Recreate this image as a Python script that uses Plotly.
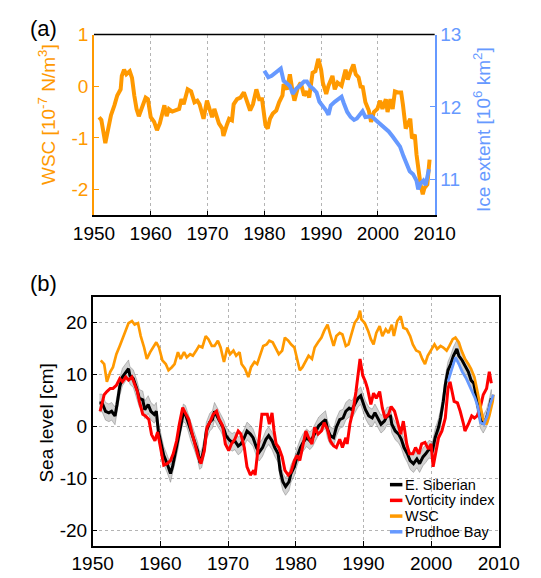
import plotly.graph_objects as go

# ---------------- Panel (a) ----------------
wsc_a_year = [1950.9, 1951.3, 1952.0, 1952.5, 1953.0, 1953.6, 1954.1, 1954.7, 1954.9, 1955.3, 1955.7, 1956.3,
              1956.7, 1957.1, 1957.5, 1957.9, 1958.5, 1959.1, 1959.5, 1960.0, 1960.6, 1961.1, 1961.6, 1962.0,
              1962.4, 1962.8, 1963.2, 1963.8, 1964.4, 1965.0, 1965.4, 1965.8, 1966.5, 1967.1, 1967.7, 1968.2,
              1968.6, 1969.3, 1969.9, 1970.4, 1970.8, 1971.2, 1971.6, 1972.0, 1972.6, 1972.8, 1973.4, 1973.8,
              1974.3, 1974.6, 1975.2, 1975.8, 1976.4, 1976.9, 1977.5, 1978.0, 1978.6, 1979.1, 1979.6, 1980.2,
              1980.6, 1981.0, 1981.5, 1982.1, 1982.6, 1983.2, 1983.4, 1984.0, 1984.5, 1985.0, 1985.3, 1985.9,
              1986.4, 1987.0, 1987.5, 1987.9, 1988.5, 1989.0, 1989.5, 1990.0, 1990.3, 1990.9, 1991.3, 1992.0,
              1992.4, 1992.9, 1993.6, 1994.3, 1994.7, 1995.1, 1995.7, 1996.1, 1996.6, 1997.0, 1997.3, 1997.8,
              1998.4, 1998.8, 1999.3, 1999.9, 2000.4, 2000.8, 2001.4, 2001.7, 2002.2, 2002.6, 2003.0, 2003.5,
              2004.1, 2004.4, 2004.9, 2005.3, 2005.7, 2006.0, 2006.5, 2006.8, 2007.2, 2007.5, 2007.9, 2008.2,
              2008.7, 2009.1]
wsc_a_val = [-0.60, -0.65, -1.10, -0.79, -0.56, -0.37, -0.18, -0.06, 0.20, 0.32, 0.23, 0.29,
             0.16, -0.18, -0.44, -0.58, -0.41, -0.22, -0.25, -0.60, -0.69, -0.85, -0.72, -0.56,
             -0.37, -0.58, -0.44, -0.49, -0.47, -0.44, -0.25, -0.35, -0.06, -0.10, -0.31, -0.28,
             -0.35, -0.63, -0.28, -0.44, -0.60, -0.44, -0.60, -0.72, -0.82, -0.96, -0.75, -0.63,
             -0.66, -0.35, -0.25, -0.22, -0.12, -0.28, -0.47, -0.35, -0.06, -0.25, -0.25, -0.75,
             -0.82, -0.63, -0.53, -0.47, -0.31, -0.18, 0.04, -0.06, 0.23, -0.12, -0.28, -0.03,
             0.07, -0.18, -0.10, -0.22, 0.26, 0.29, 0.53, 0.32, 0.07, -0.15, 0.01, 0.20,
             -0.06, 0.07, 0.01, 0.32, 0.13, 0.26, 0.42, 0.23, 0.17, -0.03, 0.01, -0.31,
             -0.47, -0.69, -0.50, -0.44, -0.28, -0.44, -0.25, -0.50, -0.25, -0.44, -0.10, -0.12,
             -0.12, -0.35, -0.82, -0.72, -0.63, -1.01, -0.94, -1.32, -1.70, -1.90, -2.09, -1.97,
             -1.90, -1.42]

ice_year = [1980.0, 1980.7, 1981.3, 1982.1, 1982.9, 1983.4, 1984.0, 1984.5, 1985.0, 1985.6, 1986.2, 1987.0,
            1987.5, 1988.0, 1988.6, 1989.2, 1989.7, 1990.3, 1990.9, 1991.3, 1991.7, 1992.4, 1993.0, 1993.6,
            1994.0, 1994.6, 1995.2, 1995.8, 1996.3, 1996.7, 1997.3, 1997.8, 1998.4, 1998.9, 1999.6, 2000.3,
            2001.1, 2001.9, 2002.6, 2003.3, 2003.9, 2004.5, 2005.0, 2005.6, 2006.2, 2006.8, 2007.1, 2007.5,
            2008.0, 2008.4, 2009.0]
ice_val = [12.50, 12.41, 12.43, 12.48, 12.53, 12.36, 12.32, 12.29, 12.18, 12.25, 12.29, 12.35,
           12.35, 12.29, 12.25, 12.20, 12.07, 12.02, 11.95, 11.89, 12.02, 12.07, 12.10, 12.14,
           12.05, 11.93, 11.86, 11.82, 11.84, 11.89, 11.94, 11.86, 11.86, 11.87, 11.82, 11.77,
           11.70, 11.66, 11.59, 11.52, 11.45, 11.32, 11.23, 11.11, 11.07, 10.98, 10.86, 10.94,
           10.98, 10.92, 11.14]

# ---------------- Panel (b) ----------------
wsc_b_year = [1951.2, 1951.7, 1952.1, 1952.6, 1953.0, 1953.5, 1954.0, 1954.4, 1954.9, 1955.3, 1955.8, 1956.2,
              1956.7, 1957.1, 1957.6, 1958.0, 1958.5, 1958.9, 1959.4, 1959.8, 1960.3, 1960.8, 1961.2, 1961.7,
              1962.1, 1962.6, 1963.0, 1963.5, 1963.9, 1964.4, 1964.8, 1965.3, 1965.7, 1966.2, 1966.7, 1967.1,
              1967.6, 1968.0, 1968.5, 1968.9, 1969.4, 1969.9, 1970.3, 1970.8, 1971.2, 1971.7, 1972.0, 1972.5,
              1973.0, 1973.4, 1973.9, 1974.3, 1974.8, 1975.2, 1975.7, 1976.1, 1976.6, 1977.1, 1977.5, 1978.0,
              1978.4, 1978.9, 1979.3, 1979.8, 1980.2, 1980.6, 1981.0, 1981.5, 1981.9, 1982.4, 1982.8, 1983.3,
              1983.8, 1984.2, 1984.7, 1985.1, 1985.6, 1986.0, 1986.5, 1986.9, 1987.4, 1987.8, 1988.3, 1988.7,
              1989.2, 1989.5, 1989.7, 1990.2, 1990.7, 1991.1, 1991.5, 1991.9, 1992.4, 1992.8, 1993.3, 1993.7,
              1994.2, 1994.5, 1995.0, 1995.5, 1995.9, 1996.4, 1996.9, 1997.3, 1997.8, 1998.3, 1998.7, 1999.1,
              1999.5, 2000.0, 2000.5, 2000.9, 2001.4, 2001.8, 2002.3, 2002.7, 2003.2, 2003.6, 2004.1, 2004.5,
              2005.0, 2005.5, 2005.9, 2006.4, 2006.8, 2007.3, 2007.7, 2008.2, 2008.6, 2009.1, 2009.2]
wsc_b_val = [12.7, 12.0, 8.6, 10.5, 11.4, 13.9, 15.5, 16.8, 18.4, 19.9, 20.3, 19.6,
             19.9, 17.4, 15.2, 13.0, 14.3, 15.2, 16.2, 15.2, 12.7, 12.0, 10.8, 11.4,
             12.0, 14.3, 13.0, 14.3, 13.3, 13.9, 13.6, 14.6, 15.5, 15.2, 17.4, 16.8,
             15.5, 15.5, 16.5, 15.2, 12.4, 15.2, 13.9, 14.6, 13.6, 14.3, 12.0, 11.1,
             9.5, 11.4, 12.4, 12.0, 13.9, 15.5, 15.8, 16.5, 16.2, 14.9, 13.9, 14.6,
             17.1, 16.5, 15.8, 15.2, 12.7, 10.8, 11.4, 12.7, 13.6, 13.0, 15.2, 16.2,
             17.1, 18.4, 19.6, 17.7, 15.5, 17.4, 18.0, 17.7, 15.5, 15.8, 18.0, 19.9,
             20.9, 22.3, 20.6, 19.9, 18.4, 16.8, 15.8, 18.0, 19.3, 17.4, 18.7, 18.0,
             19.6, 17.4, 20.3, 21.2, 19.0, 18.7, 17.4, 15.8, 14.6, 14.3, 13.0, 12.0,
             13.6, 14.6, 15.8, 14.9, 15.5, 15.2, 14.6, 15.5, 16.8, 17.1, 16.2, 14.6,
             13.0, 12.0, 11.1, 9.5, 7.0, 4.2, 1.3, 0.4, 2.0, 4.8, 6.1]

es_year = [1951.0, 1951.4, 1951.9, 1952.4, 1952.8, 1953.3, 1953.6, 1954.0, 1954.4, 1954.9, 1955.3, 1955.5,
           1956.0, 1956.5, 1956.9, 1957.4, 1957.7, 1958.2, 1958.6, 1959.1, 1959.4, 1959.7, 1960.1, 1960.5,
           1961.0, 1961.5, 1961.8, 1962.1, 1962.6, 1963.0, 1963.4, 1963.7, 1964.1, 1964.5, 1965.0, 1965.5,
           1965.8, 1966.1, 1966.5, 1966.8, 1967.3, 1967.7, 1968.0, 1968.5, 1968.9, 1969.4, 1969.7, 1970.1,
           1970.6, 1971.0, 1971.5, 1971.9, 1972.4, 1972.8, 1973.3, 1973.7, 1974.2, 1974.6, 1975.1, 1975.6,
           1976.0, 1976.5, 1976.9, 1977.4, 1977.7, 1978.1, 1978.5, 1979.0, 1979.3, 1979.8, 1980.2, 1980.7,
           1981.1, 1981.6, 1982.1, 1982.5, 1983.0, 1983.4, 1983.9, 1984.4, 1984.7, 1985.1, 1985.6, 1986.0,
           1986.5, 1987.0, 1987.4, 1987.9, 1988.3, 1988.8, 1989.2, 1989.6, 1989.9, 1990.3, 1990.8, 1991.3,
           1991.7, 1992.2, 1992.6, 1993.1, 1993.5, 1994.0, 1994.2, 1994.7, 1995.2, 1995.6, 1996.0, 1996.5,
           1996.9, 1997.4, 1997.9, 1998.3, 1998.8, 1999.2, 1999.7, 2000.2, 2000.6, 2001.1, 2001.4, 2001.8,
           2002.1, 2002.5, 2002.9, 2003.3, 2003.8, 2004.1, 2004.6, 2005.0, 2005.5, 2005.9, 2006.3, 2006.8,
           2007.3, 2007.7, 2008.2, 2008.6, 2008.9]
es_val = [4.5, 4.5, 2.9, 2.6, 2.9, 2.0, 4.2, 7.6, 9.5, 10.5, 11.1, 9.8,
          9.2, 7.3, 5.4, 5.1, 3.2, 4.2, 2.9, 2.3, 2.9, -0.9, -3.1, -5.6,
          -7.2, -9.1, -7.8, -5.9, -2.8, 0.4, 2.6, 2.3, 0.8, -1.1, -2.8, -4.7,
          -6.6, -6.3, -3.9, -0.9, 0.8, 1.3, 2.9, 1.6, 0.8, -0.6, -1.8, -2.5,
          -3.1, -2.8, -3.8, -3.4, -2.2, -0.9, -1.5, -2.2, -4.1, -5.0, -4.1, -2.5,
          -1.8, -2.8, -4.1, -5.3, -8.5, -10.7, -11.6, -10.7, -9.1, -7.8, -5.9, -4.1,
          -3.1, -2.2, -2.8, -2.2, -0.9, 0.1, 0.7, 1.3, -0.6, -1.8, -2.2, -0.2,
          1.3, 1.6, 2.9, 3.5, 3.2, 4.5, 5.4, 5.9, 4.8, 3.2, 2.0, 1.6,
          2.6, 1.3, 0.4, 1.0, 2.0, 2.0, 0.4, -0.9, -1.5, -2.5, -4.1, -5.3,
          -6.6, -7.2, -6.3, -7.2, -5.9, -5.3, -4.4, -4.7, -2.2, -0.2, 1.6, 4.8,
          8.0, 10.8, 12.0, 13.6, 14.9, 13.6, 12.7, 11.7, 10.5, 8.9, 8.3, 4.8,
          1.3, 0.4, 1.6, 3.5, 5.4]
es_unc = 1.7  # half-width of the grey uncertainty band [cm]

vort_year = [1951.1, 1951.7, 1952.1, 1952.6, 1953.0, 1953.5, 1954.0, 1954.4, 1954.9, 1955.3, 1955.8, 1956.2,
             1956.6, 1956.9, 1957.4, 1957.8, 1958.3, 1958.7, 1959.2, 1959.6, 1960.1, 1960.5, 1961.0, 1961.5,
             1961.9, 1962.4, 1962.8, 1963.3, 1963.8, 1964.2, 1964.6, 1965.1, 1965.6, 1966.0, 1966.5, 1966.9,
             1967.4, 1967.8, 1968.3, 1968.7, 1969.2, 1969.6, 1970.1, 1970.5, 1971.0, 1971.5, 1971.9, 1972.4,
             1972.8, 1973.3, 1973.8, 1974.0, 1974.3, 1974.6, 1975.0, 1975.4, 1975.8, 1976.1, 1976.5, 1976.8,
             1977.1, 1977.5, 1978.0, 1978.4, 1978.9, 1979.3, 1979.8, 1980.2, 1980.6, 1981.0, 1981.5, 1981.9,
             1982.4, 1982.8, 1983.3, 1983.8, 1984.2, 1984.7, 1985.1, 1985.6, 1986.0, 1986.5, 1986.9, 1987.4,
             1987.6, 1988.0, 1988.5, 1988.9, 1989.2, 1989.5, 1989.9, 1990.3, 1990.6, 1991.1, 1991.5, 1991.9,
             1992.4, 1992.8, 1993.2, 1993.7, 1994.1, 1994.6, 1995.0, 1995.5, 1995.9, 1996.4, 1996.8, 1997.3,
             1997.7, 1998.2, 1998.6, 1999.1, 1999.6, 2000.0, 2000.3, 2000.7, 2001.1, 2001.6, 2002.1, 2002.5,
             2002.8, 2003.1, 2003.4, 2003.9, 2004.3, 2004.8, 2005.0, 2005.5, 2006.0, 2006.4, 2006.8, 2007.3,
             2007.7, 2008.2, 2008.6, 2008.9]
vort_val = [2.9, 6.1, 6.7, 7.3, 7.3, 7.9, 9.2, 8.6, 9.5, 8.9, 9.5, 7.9,
            6.7, 4.8, 2.3, 2.0, 1.3, -1.6, -2.8, -1.1, -4.4, -7.5, -7.2, -6.6,
            -5.3, -2.8, 0.4, 3.6, 2.3, 1.3, -0.9, -3.4, -5.9, -7.2, -4.7, -0.2,
            1.0, 2.3, 2.9, 1.3, 0.1, -3.4, -4.7, -3.4, -2.5, -0.9, -1.5, -4.1,
            -7.8, -9.4, -8.5, -9.4, -5.9, -2.2, 2.3, 2.3, 2.3, 0.4, 2.6, -0.9,
            -3.4, -4.1, -5.9, -8.5, -9.4, -8.8, -6.6, -5.6, -6.6, -4.1, -0.9, -2.2,
            -3.4, -0.2, -1.5, -0.9, 0.7, -0.6, -2.8, -3.8, -4.1, -2.5, -4.1, -2.2,
            -3.4, 0.4, 3.2, 6.7, 10.5, 13.0, 9.8, 8.6, 7.3, 4.2, 6.4, 5.4,
            6.7, 3.5, 1.6, 2.3, 3.8, 2.9, 1.0, -1.5, 1.0, -3.4, -5.3, -5.3,
            -4.1, -5.3, -3.4, -3.1, -4.4, -3.4, -7.8, -4.7, -2.2, -0.9, 1.6, 7.3,
            8.6, 6.7, 4.8, 4.5, 2.9, 0.4, -0.9, 0.4, 2.0, 1.6, 2.0, 3.8,
            6.1, 7.3, 10.5, 8.3]

pb_year = [2002.5, 2003.0, 2003.6, 2004.1, 2004.6, 2005.2, 2005.6, 2006.1, 2006.5, 2006.9, 2007.3, 2007.8,
           2008.3, 2008.7, 2009.2]
pb_val = [8.6, 10.8, 13.3, 12.0, 10.5, 9.2, 8.0, 6.7, 5.4, 3.8, 0.7, 0.4,
          2.0, 4.2, 6.1]

legend_names = ["E. Siberian", "Vorticity index", "WSC", "Prudhoe Bay"]

# ---------------- styles ----------------
ORANGE = "#FF9900"
BLUE = "#6699FF"
RED = "#FF0000"
GRID = "#b4b4b4"
FONT = "Liberation Sans, Arial, sans-serif"
W, H = 541, 578

fig = go.Figure()

# panel (a)
fig.add_trace(go.Scatter(x=wsc_a_year, y=wsc_a_val, mode="lines", line=dict(color=ORANGE, width=4),
                         xaxis="x", yaxis="y", showlegend=False))
fig.add_trace(go.Scatter(x=ice_year, y=ice_val, mode="lines", line=dict(color=BLUE, width=4),
                         xaxis="x", yaxis="y2", showlegend=False))

# panel (b)
es_up = [v + es_unc for v in es_val]
es_lo = [v - es_unc for v in es_val]
fig.add_trace(go.Scatter(x=es_year + es_year[::-1], y=es_up + es_lo[::-1], fill="toself",
                         fillcolor="rgba(165,165,165,0.5)", line=dict(color="rgba(110,110,110,0.7)", width=0.6),
                         xaxis="x2", yaxis="y3", showlegend=False, hoverinfo="skip"))
series_colors = ["black", RED, ORANGE, BLUE]
fig.add_trace(go.Scatter(x=es_year, y=es_val, mode="lines", name=legend_names[0],
                         line=dict(color=series_colors[0], width=3), xaxis="x2", yaxis="y3", showlegend=False))
fig.add_trace(go.Scatter(x=vort_year, y=vort_val, mode="lines", name=legend_names[1],
                         line=dict(color=series_colors[1], width=3), xaxis="x2", yaxis="y3", showlegend=False))
fig.add_trace(go.Scatter(x=wsc_b_year, y=wsc_b_val, mode="lines", name=legend_names[2],
                         line=dict(color=series_colors[2], width=2.7), xaxis="x2", yaxis="y3", showlegend=False))
fig.add_trace(go.Scatter(x=pb_year, y=pb_val, mode="lines", name=legend_names[3],
                         line=dict(color=series_colors[3], width=2.7), xaxis="x2", yaxis="y3", showlegend=False))

xa_dom = [79.1 / W, 448.5 / W]
xb_dom = [77.7 / W, 518.0 / W]
ya_dom = [1 - 209.0 / H, 1 - 25.0 / H]
yb_dom = [1 - 545.0 / H, 1 - 291.7 / H]

year_ticks = [1950, 1960, 1970, 1980, 1990, 2000, 2010]
tickfont = dict(family=FONT, size=19, color="black")

fig.update_layout(
    width=W, height=H, margin=dict(l=0, r=0, t=0, b=0),
    paper_bgcolor="white", plot_bgcolor="white",
    font=dict(family=FONT, size=19, color="black"),
    showlegend=False,
    xaxis=dict(domain=xa_dom, anchor="y", range=[1950, 2010], tickvals=year_ticks,
               showgrid=True, gridcolor=GRID, griddash="dot", gridwidth=1,
               showline=True, linecolor="black", linewidth=1.5, ticks="inside", ticklen=5,
               tickcolor="black", tickfont=tickfont, zeroline=False),
    yaxis=dict(domain=ya_dom, anchor="x", range=[-2.5, 1], tickvals=[-2, -1, 0, 1],
               ticktext=["-2", "-1", "0", "1"], showgrid=False, zeroline=False,
               showline=True, linecolor=ORANGE, linewidth=1.5, ticks="inside", ticklen=5,
               tickcolor=ORANGE, tickfont=dict(family=FONT, size=19, color=ORANGE)),
    yaxis2=dict(domain=ya_dom, anchor="x", overlaying="y", side="right", range=[10.5, 13],
                tickvals=[11, 12, 13], showgrid=False, zeroline=False,
                showline=True, linecolor=BLUE, linewidth=1.5, ticks="inside", ticklen=5,
                tickcolor=BLUE, tickfont=dict(family=FONT, size=19, color=BLUE)),
    xaxis2=dict(domain=xb_dom, anchor="y3", range=[1950, 2010], tickvals=year_ticks,
                showgrid=True, gridcolor=GRID, griddash="dot", gridwidth=1,
                showline=True, mirror=True, linecolor="black", linewidth=1.5, ticks="inside",
                ticklen=5, tickcolor="black", tickfont=tickfont, zeroline=False),
    yaxis3=dict(domain=yb_dom, anchor="x2", range=[-23, 25], tickvals=[-20, -10, 0, 10, 20],
                ticktext=["-20", "-10", "0", "10", "20"],
                showgrid=True, gridcolor=GRID, griddash="dot", gridwidth=1,
                showline=True, mirror=True, linecolor="black", linewidth=1.5, ticks="inside",
                ticklen=5, tickcolor="black", tickfont=tickfont, zeroline=False),
)

# top border of panel (a)
fig.add_shape(type="line", xref="x domain", yref="y domain", x0=0, x1=1, y0=1, y1=1,
              line=dict(color="black", width=1.5))

# compact legend (short key lines + labels), lower right of panel (b)
legend_rows_px = [483, 499, 515, 531]
for name, col, ypx in zip(legend_names, series_colors, legend_rows_px):
    fig.add_shape(type="line", xref="paper", yref="paper", x0=400 / W, x1=413.5 / W,
                  y0=1 - ypx / H, y1=1 - ypx / H, line=dict(color=col, width=3.5))
    fig.add_annotation(xref="paper", yref="paper", x=414.5 / W, y=1 - ypx / H, text=name,
                       showarrow=False, xanchor="left", yanchor="middle",
                       font=dict(family=FONT, size=14.5, color="black"))

ann = [
    dict(text="(a)", x=24 / W, y=1 - 19 / H, font=dict(size=22, family=FONT, color="black")),
    dict(text="(b)", x=24 / W, y=1 - 278 / H, font=dict(size=22, family=FONT, color="black")),
    dict(text="WSC [10<sup>-7</sup> N/m<sup>3</sup>]", x=28 / W, y=1 - 106 / H, textangle=-90,
         font=dict(size=19, family=FONT, color=ORANGE)),
    dict(text="Ice extent [10<sup>6</sup> km<sup>2</sup>]", x=500 / W, y=1 - 122 / H, textangle=-90,
         font=dict(size=19, family=FONT, color=BLUE)),
    dict(text="Sea level [cm]", x=28 / W, y=1 - 420 / H, textangle=-90,
         font=dict(size=19, family=FONT, color="black")),
]
for a in ann:
    fig.add_annotation(xref="paper", yref="paper", showarrow=False, xanchor="center", yanchor="middle", **a)

fig.write_html("out.html")
